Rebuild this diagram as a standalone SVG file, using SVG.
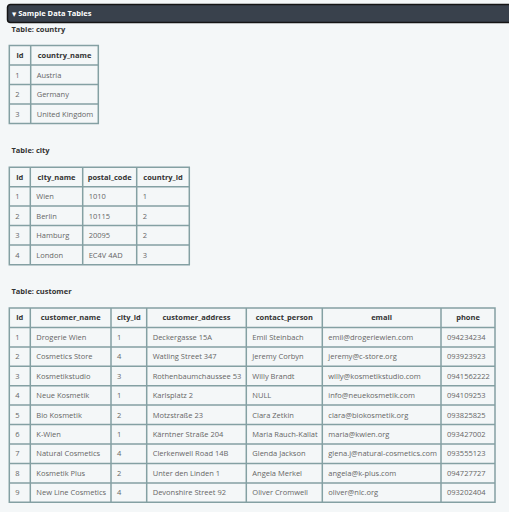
<svg xmlns="http://www.w3.org/2000/svg" width="509" height="512" viewBox="0 0 509 512">
<style>
text{font-family:"Open Sans","Noto Sans","DejaVu Sans",sans-serif;font-size:7.5px}
.ttl{font-weight:bold;fill:#333}
.hd{font-weight:bold;fill:#333;text-anchor:middle}
.dt{fill:#666666}
.grid{fill:none;stroke:#84a0a3;stroke-width:1.5}
.bar{fill:#39414c;stroke:#151515;stroke-width:1.5}
</style>
<rect x="0" y="0" width="509" height="512" fill="#f4f7f8"/>
<g id="header">
<rect class="bar" x="7.5" y="4.5" width="510" height="18" rx="3"/>
<text x="12" y="16" fill="#ffffff" font-weight="bold"><tspan font-size="5.5" font-family="DejaVu Sans,sans-serif">▼</tspan> Sample Data Tables</text>
</g>
<g id="country">
<text class="ttl" x="11.5" y="32">Table: country</text>
<path class="grid" d="M9.3 45.5H98.3V123.5H9.3Z M30.7 45.5V123.5 M9.3 65H98.3 M9.3 84.5H98.3 M9.3 104H98.3"/>
<text class="hd" y="58"><tspan x="20">id</tspan><tspan x="64.5">country_name</tspan></text>
<text class="dt" y="77.5"><tspan x="15.3">1</tspan><tspan x="36.7">Austria</tspan></text>
<text class="dt" y="97"><tspan x="15.3">2</tspan><tspan x="36.7">Germany</tspan></text>
<text class="dt" y="116.5"><tspan x="15.3">3</tspan><tspan x="36.7">United Kingdom</tspan></text>
</g>
<g id="city">
<text class="ttl" x="11.5" y="153.3">Table: city</text>
<path class="grid" d="M9.3 167.3H189.3V264.7H9.3Z M30.3 167.3V264.7 M82.7 167.3V264.7 M136.7 167.3V264.7 M9.3 186.7H189.3 M9.3 206.1H189.3 M9.3 225.6H189.3 M9.3 245.1H189.3"/>
<text class="hd" y="179.7"><tspan x="19.8">id</tspan><tspan x="56.5">city_name</tspan><tspan x="109.7">postal_code</tspan><tspan x="163">country_id</tspan></text>
<text class="dt" y="199"><tspan x="15.3">1</tspan><tspan x="36.3">Wien</tspan><tspan x="88.7">1010</tspan><tspan x="142.7">1</tspan></text>
<text class="dt" y="218.5"><tspan x="15.3">2</tspan><tspan x="36.3">Berlin</tspan><tspan x="88.7">10115</tspan><tspan x="142.7">2</tspan></text>
<text class="dt" y="238"><tspan x="15.3">3</tspan><tspan x="36.3">Hamburg</tspan><tspan x="88.7">20095</tspan><tspan x="142.7">2</tspan></text>
<text class="dt" y="257.5"><tspan x="15.3">4</tspan><tspan x="36.3">London</tspan><tspan x="88.7">EC4V 4AD</tspan><tspan x="142.7">3</tspan></text>
</g>
<g id="customer">
<text class="ttl" x="11.5" y="294.3">Table: customer</text>
<path class="grid" d="M9.3 308H495V502.3H9.3Z M30.3 308V502.3 M111 308V502.3 M146.7 308V502.3 M246.3 308V502.3 M322.3 308V502.3 M441 308V502.3 M9.3 327.4H495 M9.3 346.9H495 M9.3 366.3H495 M9.3 385.7H495 M9.3 405.1H495 M9.3 424.6H495 M9.3 444H495 M9.3 463.4H495 M9.3 482.9H495"/>
<text class="hd" y="320.4"><tspan x="19.8">id</tspan><tspan x="70.65">customer_name</tspan><tspan x="128.85">city_id</tspan><tspan x="196.5">customer_address</tspan><tspan x="284.3">contact_person</tspan><tspan x="381.65">email</tspan><tspan x="468">phone</tspan></text>
<text class="dt" y="339.8"><tspan x="15.3">1</tspan><tspan x="36.3">Drogerie Wien</tspan><tspan x="117">1</tspan><tspan x="152.7">Deckergasse 15A</tspan><tspan x="252.3">Emil Steinbach</tspan><tspan x="328.3">emil@drogeriewien.com</tspan><tspan x="447">094234234</tspan></text>
<text class="dt" y="359.3"><tspan x="15.3">2</tspan><tspan x="36.3">Cosmetics Store</tspan><tspan x="117">4</tspan><tspan x="152.7">Watling Street 347</tspan><tspan x="252.3">Jeremy Corbyn</tspan><tspan x="328.3">jeremy@c-store.org</tspan><tspan x="447">093923923</tspan></text>
<text class="dt" y="378.7"><tspan x="15.3">3</tspan><tspan x="36.3">Kosmetikstudio</tspan><tspan x="117">3</tspan><tspan x="152.7">Rothenbaumchaussee 53</tspan><tspan x="252.3">Willy Brandt</tspan><tspan x="328.3">willy@kosmetikstudio.com</tspan><tspan x="447">0941562222</tspan></text>
<text class="dt" y="398.1"><tspan x="15.3">4</tspan><tspan x="36.3">Neue Kosmetik</tspan><tspan x="117">1</tspan><tspan x="152.7">Karlsplatz 2</tspan><tspan x="252.3">NULL</tspan><tspan x="328.3">info@neuekosmetik.com</tspan><tspan x="447">094109253</tspan></text>
<text class="dt" y="417.6"><tspan x="15.3">5</tspan><tspan x="36.3">Bio Kosmetik</tspan><tspan x="117">2</tspan><tspan x="152.7">Motzstraße 23</tspan><tspan x="252.3">Clara Zetkin</tspan><tspan x="328.3">clara@biokosmetik.org</tspan><tspan x="447">093825825</tspan></text>
<text class="dt" y="437"><tspan x="15.3">6</tspan><tspan x="36.3">K-Wien</tspan><tspan x="117">1</tspan><tspan x="152.7">Kärntner Straße 204</tspan><tspan x="252.3">Maria Rauch-Kallat</tspan><tspan x="328.3">maria@kwien.org</tspan><tspan x="447">093427002</tspan></text>
<text class="dt" y="456.4"><tspan x="15.3">7</tspan><tspan x="36.3">Natural Cosmetics</tspan><tspan x="117">4</tspan><tspan x="152.7">Clerkenwell Road 14B</tspan><tspan x="252.3">Glenda Jackson</tspan><tspan x="328.3">glena.j@natural-cosmetics.com</tspan><tspan x="447">093555123</tspan></text>
<text class="dt" y="475.9"><tspan x="15.3">8</tspan><tspan x="36.3">Kosmetik Plus</tspan><tspan x="117">2</tspan><tspan x="152.7">Unter den Linden 1</tspan><tspan x="252.3">Angela Merkel</tspan><tspan x="328.3">angela@k-plus.com</tspan><tspan x="447">094727727</tspan></text>
<text class="dt" y="495.3"><tspan x="15.3">9</tspan><tspan x="36.3">New Line Cosmetics</tspan><tspan x="117">4</tspan><tspan x="152.7">Devonshire Street 92</tspan><tspan x="252.3">Oliver Cromwell</tspan><tspan x="328.3">oliver@nlc.org</tspan><tspan x="447">093202404</tspan></text>
</g>
</svg>
